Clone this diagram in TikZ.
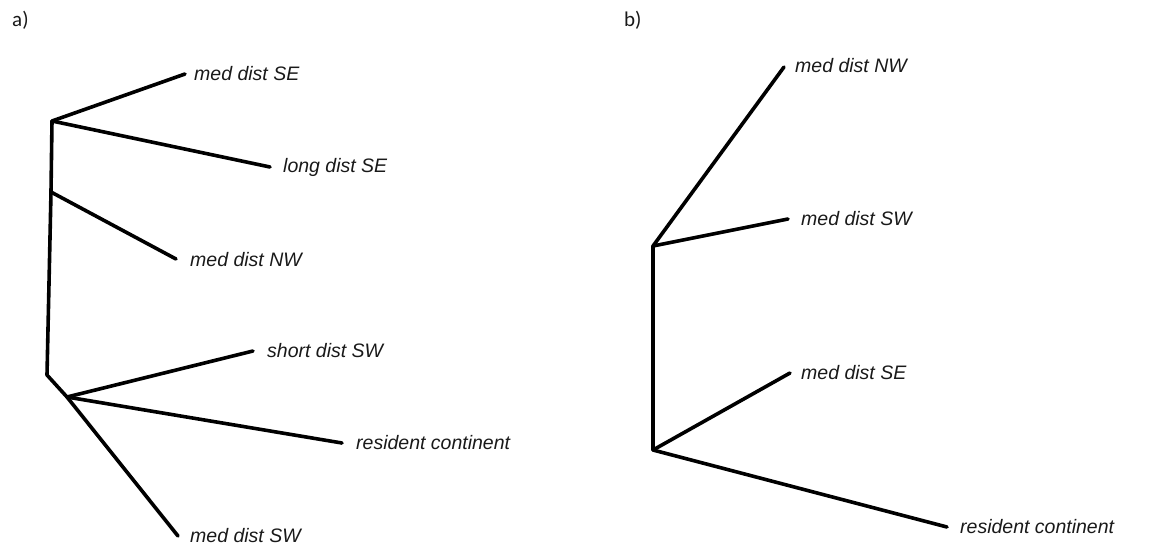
\documentclass[tikz,border=0pt]{standalone}
\usepackage{fontspec}
\setmainfont{Liberation Sans}
\newfontfamily\panelfont{Carlito}
\begin{document}
\begin{tikzpicture}[x=1pt,y=-1pt,
  branch/.style={line width=3.6pt,line cap=round,line join=round,black},
  leaf/.style={anchor=west,inner sep=0pt,font=\fontsize{19.5}{21}\selectfont\itshape,text=black!90},
  panel/.style={anchor=west,inner sep=0pt,font=\panelfont\fontsize{21}{23}\selectfont,text=black!90}]
\useasboundingbox (0,0) rectangle (1157,550);
% panel labels
\node[panel] (pa) at (12,20) {a)};
\node[panel] (pb) at (624,20) {b)};
% ---- tree a ----
\coordinate (a1) at (52,121);
\coordinate (a2) at (51,192);
\coordinate (a3) at (47,375);
\coordinate (a4) at (67,397);
\coordinate (eSE) at (185,74);
\coordinate (eLSE) at (270,167);
\coordinate (eNW) at (176,259);
\coordinate (eSSW) at (253,351);
\coordinate (eRC) at (342,443);
\coordinate (eMSW) at (178,536);
\node[leaf] (lSE) at (194,74) {med dist SE};
\node[leaf] (lLSE) at (283,167) {long dist SE};
\node[leaf] (lNW) at (190,260) {med dist NW};
\node[leaf] (lSSW) at (267,351) {short dist SW};
\node[leaf] (lRC) at (356,443) {resident continent};
\node[leaf] (lMSW) at (190,536) {med dist SW};
\draw[branch] (eSE) -- (a1) -- (a2) -- (a3) -- (a4) -- (eMSW);
\draw[branch] (a1) -- (eLSE);
\draw[branch] (a2) -- (eNW);
\draw[branch] (a4) -- (eSSW);
\draw[branch] (a4) -- (eRC);
% ---- tree b ----
\coordinate (b1) at (653,246);
\coordinate (b2) at (653,450);
\coordinate (fNW) at (784,67);
\coordinate (fSW) at (788,219);
\coordinate (fSE) at (790,373);
\coordinate (fRC) at (947,527);
\node[leaf] (mNW) at (795,66) {med dist NW};
\node[leaf] (mSW) at (801,219) {med dist SW};
\node[leaf] (mSE) at (801,373) {med dist SE};
\node[leaf] (mRC) at (960,527) {resident continent};
\draw[branch] (fNW) -- (b1) -- (b2) -- (fRC);
\draw[branch] (b1) -- (fSW);
\draw[branch] (b2) -- (fSE);
\end{tikzpicture}
\end{document}
